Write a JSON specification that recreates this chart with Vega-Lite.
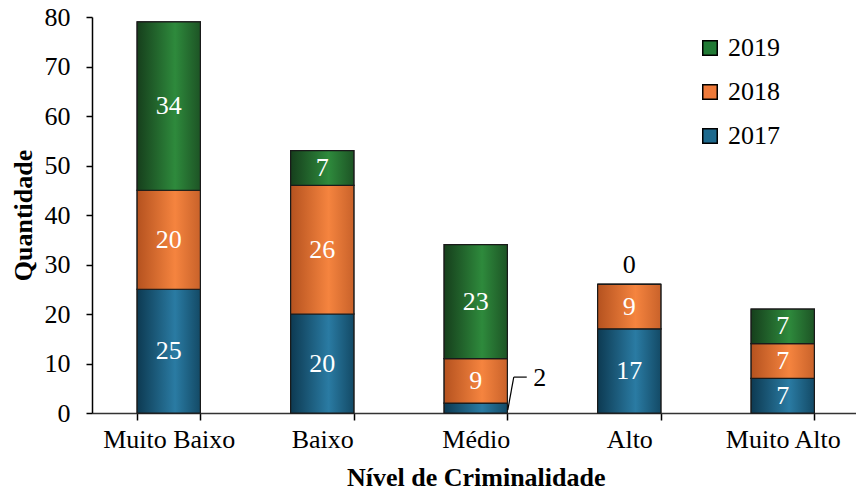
{
  "$schema": "https://vega.github.io/schema/vega-lite/v6.json",
  "width": 764,
  "height": 396,
  "autosize": {"type": "none"},
  "padding": {"left": 92, "top": 17, "right": 0, "bottom": 82},
  "background": "white",
  "config": {
    "font": "Liberation Serif",
    "view": {"stroke": null},
    "axis": {"labelFont": "Liberation Serif", "titleFont": "Liberation Serif", "labelColor": "black", "titleColor": "black", "domainColor": "black", "tickColor": "black", "grid": false}
  },
  "data": {"values": [
    {"cat": "Muito Baixo", "year": "2017", "value": 25},
    {"cat": "Muito Baixo", "year": "2018", "value": 20},
    {"cat": "Muito Baixo", "year": "2019", "value": 34},
    {"cat": "Baixo", "year": "2017", "value": 20},
    {"cat": "Baixo", "year": "2018", "value": 26},
    {"cat": "Baixo", "year": "2019", "value": 7},
    {"cat": "Médio", "year": "2017", "value": 2},
    {"cat": "Médio", "year": "2018", "value": 9},
    {"cat": "Médio", "year": "2019", "value": 23},
    {"cat": "Alto", "year": "2017", "value": 17},
    {"cat": "Alto", "year": "2018", "value": 9},
    {"cat": "Alto", "year": "2019", "value": 0},
    {"cat": "Muito Alto", "year": "2017", "value": 7},
    {"cat": "Muito Alto", "year": "2018", "value": 7},
    {"cat": "Muito Alto", "year": "2019", "value": 7}
  ]},
  "transform": [
    {"stack": "value", "groupby": ["cat"], "sort": [{"field": "year", "order": "ascending"}], "as": ["y0", "y1"]},
    {"calculate": "(datum.y0 + datum.y1) / 2", "as": "mid"}
  ],
  "encoding": {
    "x": {
      "field": "cat", "type": "nominal", "sort": null,
      "scale": {"paddingInner": 0.588, "paddingOuter": 0.294, "range": [0, 767.5]},
      "axis": {"title": "Nível de Criminalidade", "labelAngle": 0, "labelFontSize": 26, "titleFontSize": 26, "titleFontWeight": "bold", "tickBand": "extent", "tickSize": 7, "labelPadding": 6, "titlePadding": 12, "domainWidth": 1.5, "tickWidth": 1.5, "domainColor": "#333"}
    }
  },
  "layer": [
    {
      "mark": {"type": "bar", "stroke": "#1a1a1a", "strokeWidth": 1.2},
      "encoding": {
        "y": {"field": "y1", "type": "quantitative", "scale": {"domain": [0, 80]},
          "axis": {"title": "Quantidade", "values": [0,10,20,30,40,50,60,70,80], "labelFontSize": 26, "titleFontSize": 26, "titleFontWeight": "bold", "tickSize": 6, "labelPadding": 16, "titlePadding": 8, "domainWidth": 1.5, "tickWidth": 1.5}},
        "y2": {"field": "y0"},
        "color": {"field": "year", "type": "nominal",
          "scale": {"domain": ["2019", "2018", "2017"], "range": ["#217a35", "#ef7a3a", "#1e6a8e"]},
          "legend": {"title": null, "orient": "none", "legendX": 605, "legendY": 18, "padding": 0, "symbolType": "square", "symbolSize": 210, "symbolStrokeColor": "black", "symbolStrokeWidth": 1.5, "symbolOpacity": 1, "labelFontSize": 26, "labelFont": "Liberation Serif", "labelColor": "black", "labelOffset": 5, "rowPadding": 18}}
      }
    },
    {
      "transform": [{"filter": "datum.year == '2017'"}],
      "mark": {"type": "bar", "stroke": "#1a1a1a", "strokeWidth": 1.2,
        "fill": {"gradient": "linear", "x1": 0, "x2": 1, "y1": 0, "y2": 0, "stops": [{"offset": 0, "color": "#0d3a52"}, {"offset": 0.6, "color": "#2a7ba3"}, {"offset": 1, "color": "#134a66"}]}},
      "encoding": {"y": {"field": "y1", "type": "quantitative"}, "y2": {"field": "y0"}}
    },
    {
      "transform": [{"filter": "datum.year == '2018'"}],
      "mark": {"type": "bar", "stroke": "#1a1a1a", "strokeWidth": 1.2,
        "fill": {"gradient": "linear", "x1": 0, "x2": 1, "y1": 0, "y2": 0, "stops": [{"offset": 0, "color": "#b5521f"}, {"offset": 0.6, "color": "#f5843f"}, {"offset": 1, "color": "#c9622a"}]}},
      "encoding": {"y": {"field": "y1", "type": "quantitative"}, "y2": {"field": "y0"}}
    },
    {
      "transform": [{"filter": "datum.year == '2019'"}],
      "mark": {"type": "bar", "stroke": "#1a1a1a", "strokeWidth": 1.2,
        "fill": {"gradient": "linear", "x1": 0, "x2": 1, "y1": 0, "y2": 0, "stops": [{"offset": 0, "color": "#163f1c"}, {"offset": 0.6, "color": "#2e8a3c"}, {"offset": 1, "color": "#1d5425"}]}},
      "encoding": {"y": {"field": "y1", "type": "quantitative"}, "y2": {"field": "y0"}}
    },
    {
      "transform": [{"filter": "datum.value > 2"}],
      "mark": {"type": "text", "color": "white", "fontSize": 26, "font": "Liberation Serif", "baseline": "middle"},
      "encoding": {"y": {"field": "mid", "type": "quantitative"}, "text": {"field": "value"}}
    },
    {
      "transform": [{"filter": "datum.cat == 'Médio' && datum.year == '2017'"}],
      "mark": {"type": "text", "color": "black", "fontSize": 26, "font": "Liberation Serif", "baseline": "middle", "dx": 64, "dy": -25},
      "encoding": {"y": {"field": "y1", "type": "quantitative"}, "text": {"field": "value"}}
    },
    {
      "transform": [{"filter": "datum.cat == 'Médio' && datum.year == '2017'"}],
      "mark": {"type": "rule", "color": "black", "strokeWidth": 1.2, "xOffset": 32, "x2Offset": 38, "yOffset": 7, "y2Offset": -26},
      "encoding": {"y": {"field": "y1", "type": "quantitative"}, "y2": {"field": "y1"}, "x2": {"field": "cat"}}
    },
    {
      "transform": [{"filter": "datum.cat == 'Médio' && datum.year == '2017'"}],
      "mark": {"type": "rule", "color": "black", "strokeWidth": 1.2, "xOffset": 38, "x2Offset": 51, "yOffset": -26},
      "encoding": {"y": {"field": "y1", "type": "quantitative"}, "x2": {"field": "cat"}}
    },
    {
      "transform": [{"filter": "datum.value == 0"}],
      "mark": {"type": "text", "color": "black", "fontSize": 26, "font": "Liberation Serif", "baseline": "bottom", "dy": -6},
      "encoding": {"y": {"field": "y1", "type": "quantitative"}, "text": {"field": "value"}}
    }
  ]
}
